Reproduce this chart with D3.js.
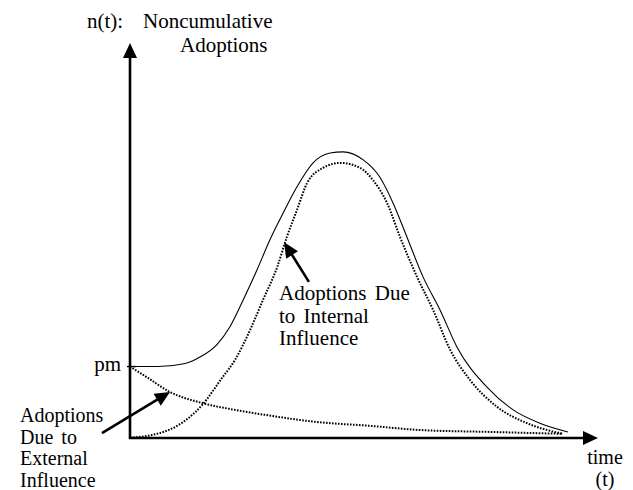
<!DOCTYPE html>
<html>
<head>
<meta charset="utf-8">
<script src="https://cdn.jsdelivr.net/npm/d3@7"></script>
<style>
  body { margin: 0; background: #fff; }
  text { font-family: "Liberation Serif", "Times New Roman", serif; font-size: 21px; fill: #000; word-spacing: 3px; }
  text.small { font-size: 20px; }
</style>
</head>
<body>
<div id="chart"></div>
<script>
// curves (time, value pairs per curve)
const totalTime = [0, 6.1, 12.0, 15.2, 18.9, 21.7, 24.6, 27.6, 30.4, 33.3, 36.3, 39.8, 43.5, 46.3, 50.7, 54.3, 57.2, 60.2, 63.7, 67.4, 71.1, 77.6, 83.3, 89.1, 95.2];
const total = [18.8, 18.8, 19.6, 21.3, 24.6, 29.2, 36.3, 44.2, 52.1, 59.2, 66.1, 72.4, 75.0, 75.3, 73.2, 68.7, 61.8, 52.9, 42.4, 33.7, 23.9, 13.4, 7.4, 3.9, 1.6];

const internalTime = [0, 4.8, 9.8, 15.7, 20.0, 22.8, 26.1, 28.9, 32.0, 34.1, 36.3, 38.5, 42.0, 45.7, 50.0, 52.8, 55.9, 58.7, 62.4, 65.9, 69.6, 73.9, 79.8, 86.3, 94.1];
const internal = [0.1, 0.8, 2.9, 8.7, 15.8, 20.5, 28.4, 36.3, 45.0, 52.9, 60.0, 67.1, 71.1, 72.4, 71.1, 67.9, 61.8, 52.9, 42.4, 33.7, 23.2, 15.3, 8.2, 3.9, 1.1];

const externalTime = [0, 3.9, 8.7, 15.7, 22.8, 29.3, 40.7, 52.2, 63.0, 78.3, 94.1];
const external = [18.8, 15.8, 12.1, 9.2, 7.4, 6.1, 4.2, 3.2, 2.1, 1.6, 1.1];

const pm = 18.8;

const width = 633;
const height = 490;

const svg = d3.select("#chart")
  .append("svg")
  .attr("width", width)
  .attr("height", height);

const x = d3.scaleLinear().domain([0, 100]).range([130, 590]);
const y = d3.scaleLinear().domain([0, 100]).range([438, 58]);

// triangle arrow head pointing from (x0,y0) toward tip (x1,y1)
function arrowHead(x0, y0, x1, y1, len, half) {
  const a = Math.atan2(y1 - y0, x1 - x0);
  const bx = x1 - len * Math.cos(a), by = y1 - len * Math.sin(a);
  const px = -Math.sin(a) * half, py = Math.cos(a) * half;
  return `M${x1},${y1}L${bx + px},${by + py}L${bx - px},${by - py}Z`;
}

function arrow(x0, y0, x1, y1) {
  const a = Math.atan2(y1 - y0, x1 - x0);
  const len = 15;
  svg.append("line")
    .attr("x1", x0).attr("y1", y0)
    .attr("x2", x1 - (len - 2) * Math.cos(a)).attr("y2", y1 - (len - 2) * Math.sin(a))
    .attr("stroke", "#000").attr("stroke-width", 2.6);
  svg.append("path")
    .attr("d", arrowHead(x0, y0, x1, y1, len, 7))
    .attr("fill", "#000");
}

// axes
arrow(x(0), y(0) + 1, x(0), y(0) - 395);
arrow(x(0) - 1, y(0), x(0) + 468, y(0));

// pm tick
svg.append("line")
  .attr("x1", x(0) - 3).attr("x2", x(0) + 6)
  .attr("y1", y(pm)).attr("y2", y(pm))
  .attr("stroke", "#000").attr("stroke-width", 1.4);

const line = (ts, vs) => d3.line()
  .x((d, i) => x(ts[i]))
  .y(d => y(d))
  .curve(d3.curveMonotoneX)(vs);

svg.append("path")
  .attr("d", line(totalTime, total))
  .attr("fill", "none").attr("stroke", "#000").attr("stroke-width", 1.1);

[[externalTime, external], [internalTime, internal]].forEach(s => {
  svg.append("path")
    .attr("d", line(s[0], s[1]))
    .attr("fill", "none").attr("stroke", "#000")
    .attr("stroke-width", 2).attr("stroke-dasharray", "1.6,1.4");
});

// annotation arrows
arrow(x(-6.1), y(1.3), x(8.7), y(12.1));
arrow(x(38.9), y(41.1), x(33.5), y(51.5));

// texts
const labels = [
  { t: "n(t):", x: 87, y: 28 },
  { t: "Noncumulative", x: 143, y: 28 },
  { t: "Adoptions", x: 180, y: 52 },
  { t: "pm", x: 121, y: 371, anchor: "end" },
  { t: "Adoptions", x: 20, y: 422, cls: "small" },
  { t: "Due to", x: 20, y: 443.5, cls: "small" },
  { t: "External", x: 20, y: 465, cls: "small" },
  { t: "Influence", x: 20, y: 486.5, cls: "small" },
  { t: "Adoptions Due", x: 279, y: 300 },
  { t: "to Internal", x: 279, y: 322.5 },
  { t: "Influence", x: 279, y: 345 },
  { t: "time", x: 605, y: 463.5, anchor: "middle", cls: "small" },
  { t: "(t)", x: 605, y: 485.5, anchor: "middle", cls: "small" }
];

svg.selectAll("text.lbl")
  .data(labels)
  .enter()
  .append("text")
  .attr("class", d => "lbl " + (d.cls || ""))
  .attr("x", d => d.x)
  .attr("y", d => d.y)
  .attr("text-anchor", d => d.anchor || "start")
  .text(d => d.t);
</script>
</body>
</html>
